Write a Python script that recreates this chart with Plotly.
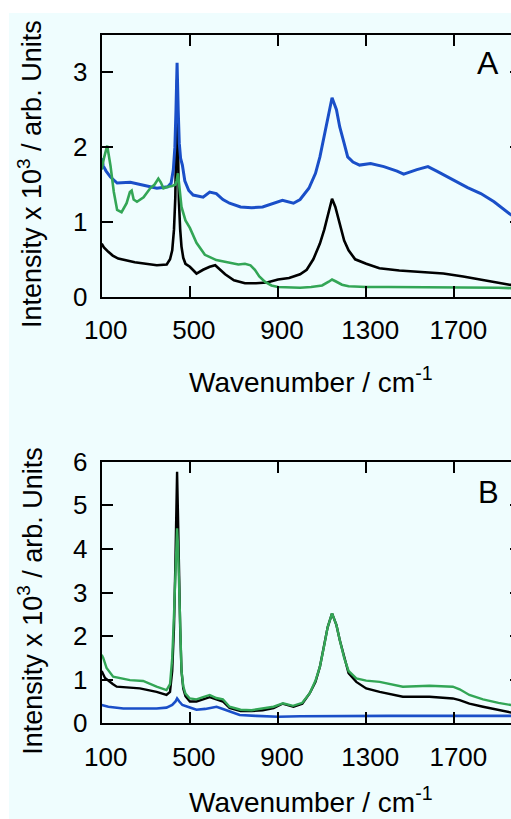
import plotly.graph_objects as go

# ---------------- Data ----------------
# Panel A
a_black_x = [100,110,130,150,175,200,250,300,350,395,410,420,428,434,438,442,446,450,456,462,470,480,500,530,560,590,615,640,660,700,750,800,850,900,950,1000,1030,1060,1090,1110,1130,1145,1160,1180,1200,1220,1250,1300,1360,1450,1550,1650,1740,1800,1880,1950,2000]
a_black_y = [0.71,0.66,0.60,0.55,0.51,0.49,0.46,0.44,0.42,0.43,0.50,0.62,0.90,1.33,1.90,2.90,2.00,1.30,0.90,0.67,0.52,0.44,0.40,0.31,0.36,0.40,0.42,0.36,0.30,0.22,0.18,0.18,0.19,0.23,0.25,0.30,0.36,0.50,0.71,0.90,1.15,1.31,1.20,0.98,0.75,0.62,0.50,0.44,0.38,0.35,0.33,0.31,0.27,0.24,0.20,0.16,0.15]

a_blue_x = [100,107,120,140,170,230,290,350,400,415,425,432,437,442,447,452,458,466,477,495,515,560,590,620,650,680,730,780,830,880,920,970,1000,1040,1070,1090,1110,1125,1145,1165,1180,1200,1216,1240,1270,1320,1380,1440,1470,1530,1580,1620,1670,1720,1760,1820,1880,1950,2000]
a_blue_y = [1.85,1.75,1.68,1.60,1.52,1.53,1.49,1.45,1.47,1.52,1.70,2.00,2.50,3.13,2.50,2.05,1.85,1.76,1.55,1.42,1.36,1.33,1.40,1.38,1.30,1.25,1.20,1.19,1.20,1.25,1.29,1.25,1.30,1.45,1.65,1.87,2.15,2.40,2.66,2.50,2.27,2.05,1.87,1.80,1.76,1.78,1.74,1.68,1.64,1.70,1.74,1.68,1.60,1.52,1.46,1.38,1.27,1.11,1.02]

a_green_x = [100,110,125,140,155,170,190,213,228,236,245,260,290,320,340,357,368,380,400,420,435,440,446,452,462,480,500,530,568,620,680,720,750,775,795,815,840,870,900,950,1000,1050,1100,1130,1145,1165,1190,1220,1300,1400,1500,1600,1700,1800,1900,2000]
a_green_y = [1.70,1.85,2.02,1.75,1.40,1.16,1.13,1.25,1.40,1.42,1.30,1.27,1.33,1.45,1.50,1.58,1.53,1.45,1.47,1.48,1.50,1.55,1.65,1.45,1.20,1.02,0.92,0.72,0.56,0.49,0.45,0.43,0.44,0.42,0.36,0.27,0.20,0.15,0.13,0.12,0.12,0.13,0.15,0.20,0.23,0.20,0.16,0.14,0.13,0.13,0.13,0.13,0.12,0.12,0.12,0.11]

# Panel B
b_black_x = [100,115,150,168,273,349,394,410,420,428,434,438,442,446,450,456,462,470,480,500,530,560,590,620,650,680,730,780,830,880,920,970,1010,1044,1070,1090,1110,1125,1145,1165,1180,1200,1220,1255,1300,1361,1466,1587,1693,1724,1768,1830,1900,1954,2000]
b_black_y = [1.20,1.04,0.90,0.84,0.80,0.72,0.65,0.72,1.20,2.20,3.60,4.80,5.77,4.80,3.60,2.20,1.20,0.80,0.62,0.50,0.50,0.55,0.60,0.55,0.50,0.35,0.28,0.28,0.30,0.35,0.45,0.38,0.45,0.69,0.95,1.30,1.80,2.20,2.52,2.25,1.91,1.50,1.15,0.95,0.80,0.72,0.61,0.61,0.57,0.53,0.45,0.38,0.30,0.25,0.22]

b_green_x = [100,107,122,152,228,288,349,394,410,420,428,434,438,442,446,450,456,462,470,480,500,530,560,590,620,650,680,730,780,830,880,923,968,1010,1044,1070,1090,1110,1125,1145,1165,1180,1200,1220,1255,1300,1361,1466,1587,1693,1724,1768,1830,1900,1954,2000]
b_green_y = [1.57,1.50,1.27,1.07,0.99,0.97,0.84,0.76,0.90,1.50,2.50,3.50,4.10,4.47,4.10,3.40,2.20,1.20,0.85,0.68,0.57,0.55,0.60,0.65,0.58,0.55,0.38,0.31,0.30,0.34,0.38,0.46,0.40,0.47,0.69,0.98,1.30,1.80,2.20,2.52,2.25,1.91,1.50,1.20,1.03,0.98,0.95,0.84,0.86,0.84,0.78,0.65,0.55,0.47,0.42,0.38]

b_blue_x = [100,130,198,300,349,394,420,435,442,452,466,500,530,570,621,650,681,726,800,900,1000,1200,1400,1600,1800,2000]
b_blue_y = [0.42,0.38,0.34,0.34,0.34,0.36,0.42,0.50,0.57,0.50,0.42,0.36,0.31,0.33,0.38,0.33,0.27,0.19,0.17,0.15,0.16,0.17,0.17,0.17,0.17,0.17]

x_ticks = [100, 500, 900, 1300, 1700]
ya_ticks = [0, 1, 2, 3]
yb_ticks = [0, 1, 2, 3, 4, 5, 6]

# ---------------- Layout geometry ----------------
W, H = 530, 819
FONT = "Liberation Sans, Arial, sans-serif"
BLACK = "#000000"
BLUE = "#1A4FC8"
GREEN = "#33A656"


def px_x(p):
    return p / W


def px_y(p):
    return 1 - p / H


fig = go.Figure()

# panel A traces (black, blue, green order)
fig.add_trace(go.Scatter(x=a_black_x, y=a_black_y, mode="lines", line=dict(color=BLACK, width=2.6), xaxis="x", yaxis="y"))
fig.add_trace(go.Scatter(x=a_blue_x, y=a_blue_y, mode="lines", line=dict(color=BLUE, width=3), xaxis="x", yaxis="y"))
fig.add_trace(go.Scatter(x=a_green_x, y=a_green_y, mode="lines", line=dict(color=GREEN, width=2.6), xaxis="x", yaxis="y"))
# panel B traces
fig.add_trace(go.Scatter(x=b_blue_x, y=b_blue_y, mode="lines", line=dict(color=BLUE, width=2.6), xaxis="x2", yaxis="y2"))
fig.add_trace(go.Scatter(x=b_black_x, y=b_black_y, mode="lines", line=dict(color=BLACK, width=2.4), xaxis="x2", yaxis="y2"))
fig.add_trace(go.Scatter(x=b_green_x, y=b_green_y, mode="lines", line=dict(color=GREEN, width=2.4), xaxis="x2", yaxis="y2"))

axis_common = dict(
    showgrid=False, zeroline=False, showline=True, linecolor=BLACK, linewidth=2,
    mirror="ticks", ticks="inside", ticklen=11, tickwidth=2, tickcolor=BLACK,
    tickfont=dict(family=FONT, size=26, color=BLACK), automargin=False,
)
x_common = dict(axis_common, ticklabelstandoff=9, ticklabelshift=4)
y_common = dict(axis_common, ticklabelstandoff=7)

xdom = [px_x(101.7), px_x(520.5)]
fig.update_layout(
    width=W, height=H, template="none",
    margin=dict(l=0, r=0, t=0, b=0, pad=0),
    paper_bgcolor="white", plot_bgcolor="rgba(0,0,0,0)",
    showlegend=False,
    font=dict(family=FONT, color=BLACK),
    xaxis=dict(x_common, range=[100, 2000], tickvals=x_ticks, domain=xdom, anchor="y"),
    yaxis=dict(y_common, range=[0, 3.5], tickvals=ya_ticks, domain=[px_y(296.7), px_y(35)], anchor="x"),
    xaxis2=dict(x_common, range=[100, 2000], tickvals=x_ticks, domain=xdom, anchor="y2"),
    yaxis2=dict(y_common, range=[0, 6], tickvals=yb_ticks, domain=[px_y(723.3), px_y(461.7)], anchor="x2"),
    shapes=[dict(type="rect", xref="paper", yref="paper", x0=px_x(9), x1=1, y0=0, y1=px_y(13),
                 fillcolor="#EFFDFE", line=dict(width=0), layer="below")],
)

ytitle = "Intensity x 10<sup>3</sup> / arb. Units"
xtitle = "Wavenumber / cm<sup>-1</sup>"
ann = []
for cy in (174, 600.8):
    ann.append(dict(text=ytitle, x=px_x(30), y=px_y(cy), xref="paper", yref="paper", textangle=-90,
                    showarrow=False, xanchor="center", yanchor="middle", font=dict(family=FONT, size=27, color=BLACK)))
for cy in (380, 800):
    ann.append(dict(text=xtitle, x=px_x(310.8), y=px_y(cy), xref="paper", yref="paper", borderpad=0,
                    showarrow=False, xanchor="center", yanchor="middle", font=dict(family=FONT, size=28, color=BLACK)))
ann.append(dict(text="A", x=px_x(488), y=px_y(63), xref="paper", yref="paper", showarrow=False,
                xanchor="center", yanchor="middle", font=dict(family=FONT, size=32, color=BLACK)))
ann.append(dict(text="B", x=px_x(488), y=px_y(492.5), xref="paper", yref="paper", showarrow=False,
                xanchor="center", yanchor="middle", font=dict(family=FONT, size=31, color=BLACK)))
fig.update_layout(annotations=ann)

fig.write_html("out.html", config=dict(displayModeBar=False),
               post_script="document.body.style.margin='0';document.body.style.overflow='hidden';document.documentElement.style.overflow='hidden';")
